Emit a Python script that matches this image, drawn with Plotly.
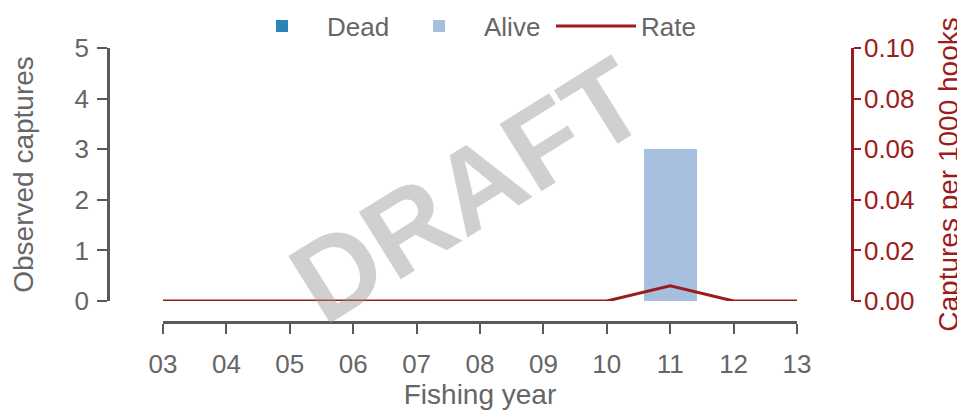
import plotly.graph_objects as go

# ---- data ----
years = [3, 4, 5, 6, 7, 8, 9, 10, 11, 12, 13]
year_labels = ["03", "04", "05", "06", "07", "08", "09", "10", "11", "12", "13"]
dead = [0, 0, 0, 0, 0, 0, 0, 0, 0, 0, 0]
alive = [0, 0, 0, 0, 0, 0, 0, 0, 3, 0, 0]
rate = [0, 0, 0, 0, 0, 0, 0, 0, 0.006, 0, 0]
left_ticks = [0, 1, 2, 3, 4, 5]
right_ticks = [0.0, 0.02, 0.04, 0.06, 0.08, 0.10]

# ---- styles ----
GRAY = "#666666"
AXIS = "#5a5a5a"
RED = "#9b1c1c"
FONT = "Liberation Sans, Arial, Helvetica, sans-serif"
FS = 26
TFS = 28

# page body has an 8px margin -> figure drawn 8px in from top-left
OFF = 8
W, H = 965 - OFF, 414 - OFF
ML = 108 - OFF
MT = 48 - OFF
MR = W - (852 - OFF)
MB = H - (322 - OFF)
PW = W - ML - MR
PH = H - MT - MB


def px(xr):
    return (xr - OFF - ML) / PW


def py(yr):
    return (H - MB - (yr - OFF)) / PH


fig = go.Figure()
fig.add_trace(go.Bar(x=years, y=dead, name="Dead", marker=dict(color="#2b83ba", line=dict(width=0)),
                     width=0.84, xaxis="x", yaxis="y"))
fig.add_trace(go.Bar(x=years, y=alive, name="Alive", marker=dict(color="#a7bfdf", line=dict(width=0)),
                     width=0.84, xaxis="x", yaxis="y"))
fig.add_trace(go.Scatter(x=years, y=rate, name="Rate", mode="lines",
                         line=dict(color=RED, width=3), xaxis="x", yaxis="y2"))

fig.update_layout(
    template="none",
    width=W, height=H,
    margin=dict(l=ML, r=MR, t=MT, b=MB, pad=0, autoexpand=False),
    paper_bgcolor="white", plot_bgcolor="white",
    font=dict(family=FONT, size=FS, color=GRAY),
    barmode="stack",
    showlegend=True,
    legend=dict(orientation="h", x=px(237), y=py(26),
                xanchor="left", yanchor="middle", traceorder="normal",
                itemwidth=80, entrywidth=62, entrywidthmode="pixels",
                font=dict(size=FS, color=GRAY),
                bgcolor="rgba(0,0,0,0)", borderwidth=0),
    xaxis=dict(domain=[px(163), px(797)], range=[3, 13], anchor="free", position=0, automargin=False,
               tickmode="array", tickvals=years, ticktext=year_labels,
               ticks="outside", ticklen=10, tickwidth=2, tickcolor=AXIS,
               showline=True, linecolor=AXIS, linewidth=2.5,
               showgrid=False, zeroline=False,
               tickfont=dict(size=FS, color=GRAY), ticklabelstandoff=8,
               title=dict(text="Fishing year", font=dict(size=TFS, color=GRAY), standoff=0)),
    yaxis=dict(domain=[py(301), 1], range=[0, 5], anchor="free", position=0, automargin=False,
               tickmode="array", tickvals=left_ticks,
               ticks="outside", ticklen=10, tickwidth=2, tickcolor=AXIS,
               showline=True, linecolor=AXIS, linewidth=2.5,
               showgrid=False, zeroline=False,
               tickfont=dict(size=FS, color=GRAY), ticklabelstandoff=3,
               title=dict(text="Observed captures", font=dict(size=TFS, color=GRAY), standoff=34)),
    yaxis2=dict(overlaying="y", side="right", range=[0, 0.1], anchor="free", position=1, automargin=False,
                tickmode="array", tickvals=right_ticks, tickformat=".2f",
                ticks="outside", ticklen=7, tickwidth=2, tickcolor=RED,
                showline=True, linecolor=RED, linewidth=2.5,
                showgrid=False, zeroline=False,
                tickfont=dict(size=FS, color=RED), ticklabelstandoff=-2,
                title=dict(text="Captures per 1000 hooks", font=dict(size=TFS, color=RED), standoff=24)),
    annotations=[dict(text="<b>DRAFT</b>", xref="paper", yref="paper",
                      x=px(468), y=py(190),
                      xanchor="center", yanchor="middle", showarrow=False,
                      textangle=-32,
                      font=dict(family=FONT, size=115, color="rgba(150,150,150,0.45)"))],
)

fig.write_html("out.html")
